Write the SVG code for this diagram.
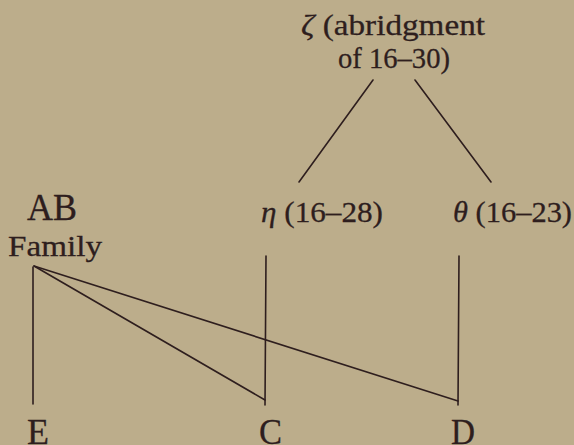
<svg xmlns="http://www.w3.org/2000/svg" width="574" height="445" viewBox="0 0 574 445">
<style>
.t{font-family:"Liberation Serif","DejaVu Serif",serif;fill:#2e1e1e;stroke:#2e1e1e;stroke-width:0.3}
.g{font-style:italic}
.c line{stroke:#2e1e1e;stroke-width:1.6;stroke-linecap:round}
</style>
<rect width="574" height="445" fill="#bcad8b"/>
<g id="zeta">
<text class="t" x="301" y="35" font-size="30" textLength="184" lengthAdjust="spacingAndGlyphs"><tspan class="g">ζ</tspan> (abridgment</text>
<text class="t" x="338" y="68" font-size="30" textLength="112" lengthAdjust="spacingAndGlyphs">of 16–30)</text>
</g>
<g id="ab">
<text class="t" x="27" y="220" font-size="37" textLength="50" lengthAdjust="spacingAndGlyphs">AB</text>
<text class="t" x="8" y="256" font-size="30" textLength="94" lengthAdjust="spacingAndGlyphs">Family</text>
</g>
<g id="eta">
<text class="t" x="261" y="222" font-size="30" textLength="122" lengthAdjust="spacingAndGlyphs"><tspan class="g">η</tspan> (16–28)</text>
</g>
<g id="theta">
<text class="t" x="453" y="222" font-size="30" textLength="119" lengthAdjust="spacingAndGlyphs"><tspan class="g">θ</tspan> (16–23)</text>
</g>
<g id="e"><text class="t" x="27" y="444" font-size="36" textLength="22" lengthAdjust="spacingAndGlyphs">E</text></g>
<g id="cnode"><text class="t" x="259" y="444" font-size="36" textLength="23" lengthAdjust="spacingAndGlyphs">C</text></g>
<g id="d"><text class="t" x="451" y="444" font-size="36" textLength="24" lengthAdjust="spacingAndGlyphs">D</text></g>
<g id="connectors" class="c">
<line x1="373" y1="80" x2="299" y2="182"/>
<line x1="415" y1="80" x2="491" y2="182"/>
<line x1="33" y1="267" x2="33" y2="404"/>
<line x1="34" y1="266" x2="265" y2="400"/>
<line x1="34" y1="266" x2="458" y2="401"/>
<line x1="266" y1="256" x2="265" y2="405"/>
<line x1="459" y1="256" x2="458" y2="405"/>
</g>
</svg>
